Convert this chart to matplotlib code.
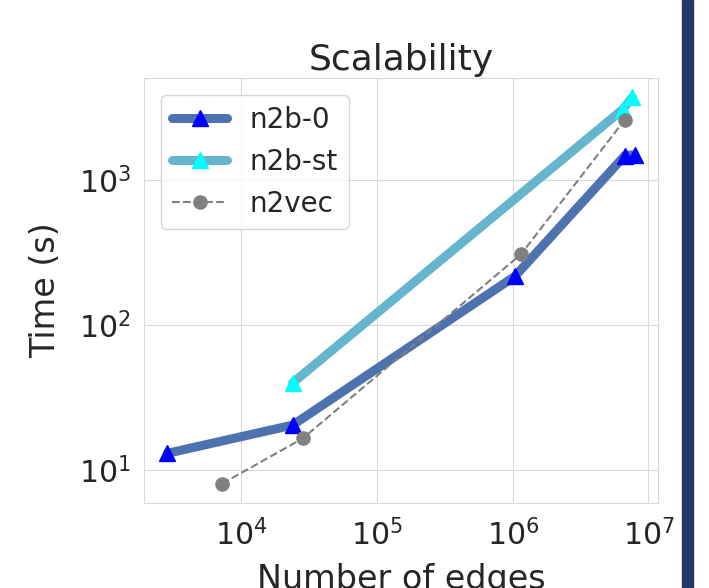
import matplotlib
matplotlib.use("Agg")
import matplotlib.pyplot as plt
import seaborn as sns
from matplotlib.patches import Rectangle

sns.set_style("whitegrid")
plt.rcParams['font.family'] = ['DejaVu Sans']

# dane
edges_n2b0 = [2870, 24000, 1.04e6, 6.7e6, 7.9e6]
time_n2b0 = [13.1, 20.5, 217, 1470, 1490]

edges_n2bst = [24000, 6.45e6, 7.6e6]
time_n2bst = [40, 3050, 3700]

edges_n2vec = [7260, 28500, 1.15e6, 6.7e6]
time_n2vec = [8.1, 16.6, 307, 2600]

fig = plt.figure(figsize=(7.09, 5.88), dpi=100)
ax = fig.add_axes([0.2031, 0.1446, 0.7249, 0.7227])

ax.plot(edges_n2b0, time_n2b0, color='#4c72b0', lw=6.5, marker='^',
        ms=11, mfc='blue', mec='blue', label='n2b-0', solid_capstyle='round')
ax.plot(edges_n2bst, time_n2bst, color='#64b5cd', lw=6.5, marker='^',
        ms=11, mfc='cyan', mec='cyan', label='n2b-st', solid_capstyle='round')
ax.plot(edges_n2vec, time_n2vec, color='gray', lw=1.5, ls='--', marker='o',
        ms=9.5, label='n2vec')

ax.set_xscale('log')
ax.set_yscale('log')
ax.set_title('Scalability', fontsize=26, pad=6)
ax.set_xlabel('Number of edges', fontsize=24, labelpad=8)
ax.set_ylabel('Time (s)', fontsize=24, labelpad=12)
ax.tick_params(labelsize=21.5)
ax.tick_params(axis='x', pad=8)
ax.tick_params(axis='y', pad=6)
ax.grid(color='#d9d9d9')
for s in ax.spines.values():
    s.set_color('#d9d9d9')
ax.legend(loc='upper left', fontsize=20, handlelength=2.0, borderaxespad=0.6)

# ciemny pasek po prawej stronie (z oryginalnego zrzutu)
fig.patches.append(Rectangle((682 / 709, 0), 11 / 709, 1, transform=fig.transFigure,
                             color='#233a66', zorder=10))

fig.savefig('out.png', dpi=100)
